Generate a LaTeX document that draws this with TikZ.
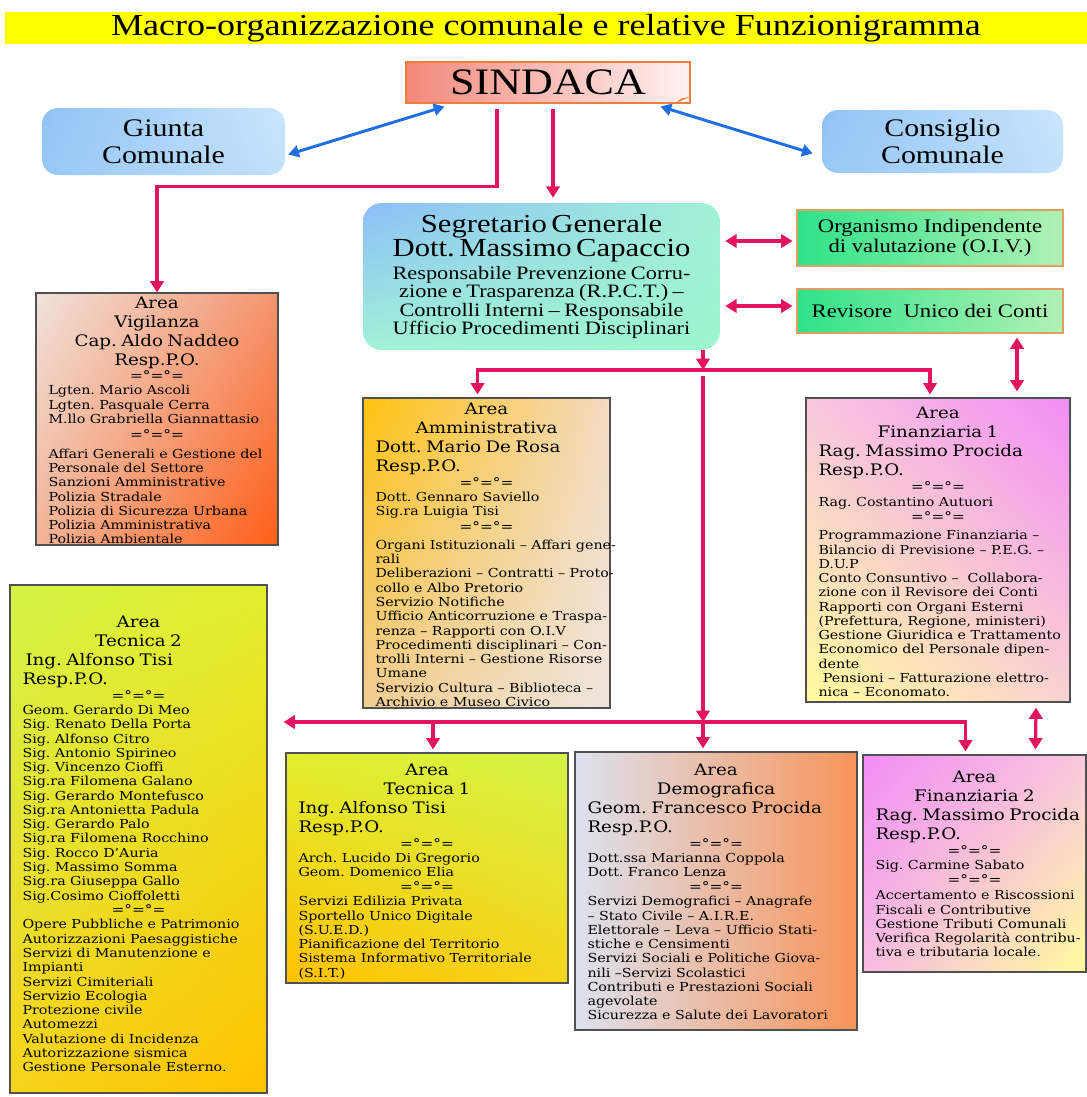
\documentclass[tikz,border=0pt]{standalone}
\usepackage{fontspec}
\setmainfont{Liberation Serif}
\newfontfamily\widefont{Liberation Serif}[FakeStretch=1.18]
\newfontfamily\areafont{DejaVu Serif}[FakeStretch=1.15]
\usetikzlibrary{arrows.meta, calc, positioning, shadings}
\frenchspacing

\definecolor{linkred}{HTML}{E3145F}
\definecolor{linkblue}{HTML}{1F6FE3}
\definecolor{boxgray}{HTML}{505050}
\definecolor{titleyellow}{HTML}{FFFF00}
\definecolor{sindleft}{HTML}{F3897C}
\definecolor{sindright}{HTML}{FFF2F2}
\definecolor{sindedge}{HTML}{F07E3A}
\definecolor{skyA}{HTML}{8FC3F5}
\definecolor{skyB}{HTML}{CBE6FC}
\definecolor{segA}{HTML}{8CBEF8}
\definecolor{segB}{HTML}{A2F2D6}
\definecolor{segC}{HTML}{9CF6CE}
\definecolor{oivleft}{HTML}{30E28A}
\definecolor{oivright}{HTML}{B0F2B4}
\definecolor{oivedge}{HTML}{E0A060}
\definecolor{vigA}{HTML}{F0E2DA}
\definecolor{vigB}{HTML}{F4946E}
\definecolor{vigC}{HTML}{F2B498}
\definecolor{vigD}{HTML}{FF5E16}
\definecolor{ammA}{HTML}{FFC30F}
\definecolor{ammB}{HTML}{F3DAC2}
\definecolor{ammC}{HTML}{F1CD92}
\definecolor{ammD}{HTML}{EEE6DE}
\definecolor{finA}{HTML}{F8C8DE}
\definecolor{finB}{HTML}{F28CF5}
\definecolor{finC}{HTML}{FFFB9C}
\definecolor{finD}{HTML}{F9D2D2}
\definecolor{tecA}{HTML}{D4F446}
\definecolor{tecB}{HTML}{E2EE2E}
\definecolor{tecC}{HTML}{F6D41C}
\definecolor{tecD}{HTML}{FFC200}
\definecolor{demA}{HTML}{DCE2EE}
\definecolor{demB}{HTML}{F2C6B4}
\definecolor{demC}{HTML}{F8945A}

\newlength\pxu
\setlength\pxu{0.75pt}

\newcommand{\hdrfont}{\areafont\fontsize{11.9pt}{14.25pt}\selectfont}
\newcommand{\lstfont}{\areafont\fontsize{9.3pt}{10.7pt}\selectfont}
\newcommand{\sepfont}{\areafont\fontsize{10pt}{11pt}\selectfont}
\newcommand{\segbig}{\widefont\fontsize{19.5pt}{18pt}\selectfont}
\newcommand{\segsmall}{\widefont\fontsize{14.2pt}{13.9pt}\selectfont}
\newcommand{\hdr}[1]{{\hdrfont\centering #1\par}}
\newcommand{\hdl}[1]{{\hdrfont\leftskip=11.5\pxu\rightskip=-40pt plus 1fil\parfillskip=0pt #1\par}}
\newcommand{\sepline}{{\sepfont\centering =°=°=\par}}
\newcommand{\lst}[1]{{\lstfont\leftskip=11.5\pxu\rightskip=-40pt plus 1fil\parfillskip=0pt #1\par}}

\begin{document}
\begin{tikzpicture}[x=0.75pt, y=-0.75pt,
    areabox/.style={rectangle, draw=boxgray, line width=0.8pt, inner sep=0pt},
    areatext/.style={inner sep=0pt, text width=#1},
    skybox/.style={rectangle, rounded corners=12pt, inner sep=0pt, align=center,
      upper left=skyA, lower left=skyA!85!skyB, upper right=skyB, lower right=skyB!85!skyA,
      font=\widefont\fontsize{19pt}{20pt}\selectfont},
    greenbox/.style={rectangle, draw=oivedge, line width=0.8pt, inner sep=0pt, align=center,
      left color=oivleft, right color=oivright,
      font=\widefont\fontsize{14.4pt}{15pt}\selectfont},
    redline/.style={draw=linkred, line width=2.4pt},
    redarr/.style={redline, -{Triangle[length=8.5pt, width=10pt]}},
    redboth/.style={redline, {Triangle[length=8.5pt, width=10pt]}-{Triangle[length=8.5pt, width=10pt]}},
    blueboth/.style={draw=linkblue, line width=2.2pt, {Triangle[length=8pt, width=9pt]}-{Triangle[length=8pt, width=9pt]}}]

  \useasboundingbox (0,0) rectangle (1087,1097);
  \fill[white] (0,0) rectangle (1087,1097);

  % top
  \node[rectangle, fill=titleyellow, inner sep=0pt, minimum width=1082*\pxu, minimum height=32*\pxu,
    font=\widefont\fontsize{22.9pt}{24pt}\selectfont] (title) at (546,28)
    {Macro-organizzazione comunale e relative Funzionigramma};

  \node[rectangle, draw=sindedge, line width=0.8pt, inner sep=0pt, left color=sindleft, right color=sindright,
    minimum width=284*\pxu, minimum height=41*\pxu, font=\widefont\fontsize{28pt}{30pt}\selectfont] (sind) at (548,82.5) {SINDACA};
  \fill[sindedge] ($(sind.south east)+(-16,0)$) -- ($(sind.south east)+(0,-7)$) -- ($(sind.south east)+(-9,-5)$) -- cycle;

  \node[skybox, minimum width=243*\pxu, minimum height=67*\pxu] (giunta) at (163.5,141.5) {Giunta\\Comunale};
  \node[skybox, minimum width=241*\pxu, minimum height=63*\pxu] (consiglio) at (942.5,141.5) {Consiglio\\Comunale};

  \node[rectangle, rounded corners=14pt, inner sep=0pt, minimum width=357*\pxu, minimum height=147*\pxu,
    text width=345*\pxu, upper left=segA, upper right=segB, lower left=segB, lower right=segC] (segr) at (541.5,276.5)
    {{\segbig\centering Segretario Generale\\Dott. Massimo Capaccio\par}
     \vspace{2.5pt}
     {\segsmall\centering Responsabile Prevenzione Corru-\\zione e Trasparenza (R.P.C.T.) –\\Controlli Interni – Responsabile\\Ufficio Procedimenti Disciplinari\par}};

  \node[greenbox, minimum width=266*\pxu, minimum height=56*\pxu] (oiv) at (930,238) {Organismo Indipendente\\di valutazione (O.I.V.)};
  \node[greenbox, minimum width=266*\pxu, minimum height=44*\pxu] (rev) at (930,311) {Revisore\ \ Unico dei Conti};

  % areas
  \node[areabox, minimum width=242*\pxu, minimum height=252*\pxu,
    upper left=vigA, upper right=vigB, lower left=vigC, lower right=vigD] (vig) at (157,419) {};
  \node[areatext=240*\pxu, below=3pt of vig.north] (vigtxt)
    {\hdr{Area\\Vigilanza\\Cap. Aldo Naddeo\\Resp.P.O.}
     \vspace{0.5pt}\sepline
     \lst{Lgten. Mario Ascoli\\Lgten. Pasquale Cerra\\M.llo Grabriella Giannattasio}
     \vspace{1pt}\sepline\vspace{3.5pt}
     \lst{Affari Generali e Gestione del\\Personale del Settore\\Sanzioni Amministrative\\Polizia Stradale\\Polizia di Sicurezza Urbana\\Polizia Amministrativa\\Polizia Ambientale}};

  \node[areabox, minimum width=247*\pxu, minimum height=310*\pxu,
    upper left=ammA, upper right=ammB, lower left=ammC, lower right=ammD] (amm) at (486.5,553) {};
  \node[areatext=245*\pxu, below=3.75pt of amm.north] (ammtxt)
    {\hdr{Area\\Amministrativa}
     \hdl{Dott. Mario De Rosa\\Resp.P.O.}
     \vspace{1pt}\sepline
     \lst{Dott. Gennaro Saviello\\Sig.ra Luigia Tisi}
     \vspace{0.5pt}\sepline\vspace{3pt}
     \lst{Organi Istituzionali – Affari gene-\\rali\\Deliberazioni – Contratti – Proto-\\collo e Albo Pretorio\\Servizio Notifiche\\Ufficio Anticorruzione e Traspa-\\renza – Rapporti con O.I.V\\Procedimenti disciplinari – Con-\\trolli Interni – Gestione Risorse\\Umane\\Servizio Cultura – Biblioteca –\\Archivio e Museo Civico}};

  \node[areabox, minimum width=264*\pxu, minimum height=304*\pxu,
    upper left=finA, upper right=finB, lower left=finC, lower right=finD] (fin1) at (938,550) {};
  \node[areatext=262*\pxu, below=6.75pt of fin1.north] (fin1txt)
    {\hdr{Area\\Finanziaria 1}
     \hdl{Rag. Massimo Procida\\Resp.P.O.}
     \vspace{1.5pt}\sepline
     \lst{Rag. Costantino Autuori}
     \vspace{0.5pt}\sepline\vspace{3pt}
     \lst{Programmazione Finanziaria –\\Bilancio di Previsione – P.E.G. –\\D.U.P\\Conto Consuntivo – \ Collabora-\\zione con il Revisore dei Conti\\Rapporti con Organi Esterni\\(Prefettura, Regione, ministeri)\\Gestione Giuridica e Trattamento\\Economico del Personale dipen-\\dente\\\hspace*{0.35em}Pensioni – Fatturazione elettro-\\nica – Economato.}};

  \node[areabox, minimum width=257*\pxu, minimum height=508*\pxu,
    upper left=tecA, upper right=tecB, lower left=tecC, lower right=tecD] (tec2) at (138.5,839) {};
  \node[areatext=255*\pxu, below=23.25pt of tec2.north] (tec2txt)
    {\hdr{Area\\Tecnica 2}
     \hdl{\hspace*{3\pxu}Ing. Alfonso Tisi\\Resp.P.O.}
     \vspace{1pt}\sepline
     \lst{Geom. Gerardo Di Meo\\Sig. Renato Della Porta\\Sig. Alfonso Citro\\Sig. Antonio Spirineo\\Sig. Vincenzo Cioffi\\Sig.ra Filomena Galano\\Sig. Gerardo Montefusco\\Sig.ra Antonietta Padula\\Sig. Gerardo Palo\\Sig.ra Filomena Rocchino\\Sig. Rocco D’Auria\\Sig. Massimo Somma\\Sig.ra Giuseppa Gallo\\Sig.Cosimo Cioffoletti}
     \sepline
     \lst{Opere Pubbliche e Patrimonio\\Autorizzazioni Paesaggistiche\\Servizi di Manutenzione e\\Impianti\\Servizi Cimiteriali\\Servizio Ecologia\\Protezione civile\\Automezzi\\Valutazione di Incidenza\\Autorizzazione sismica\\Gestione Personale Esterno.}};

  \node[areabox, minimum width=282*\pxu, minimum height=230*\pxu,
    upper left=tecB, upper right=tecA, lower left=tecD, lower right=tecC] (tec1) at (427,868) {};
  \node[areatext=280*\pxu, below=8.25pt of tec1.north] (tec1txt)
    {\hdr{Area\\Tecnica 1}
     \hdl{Ing. Alfonso Tisi\\Resp.P.O.}
     \vspace{1pt}\sepline
     \lst{Arch. Lucido Di Gregorio\\Geom. Domenico Elia}
     \sepline
     \lst{Servizi Edilizia Privata\\Sportello Unico Digitale\\(S.U.E.D.)\\Pianificazione del Territorio\\Sistema Informativo Territoriale\\(S.I.T.)}};

  \node[areabox, minimum width=282*\pxu, minimum height=278*\pxu,
    left color=demA, middle color=demB, right color=demC] (demo) at (716,891) {};
  \node[areatext=280*\pxu, below=9pt of demo.north] (demotxt)
    {\hdr{Area\\Demografica}
     \hdl{Geom. Francesco Procida\\Resp.P.O.}
     \vspace{1pt}\sepline
     \lst{Dott.ssa Marianna Coppola\\Dott. Franco Lenza}
     \sepline
     \lst{Servizi Demografici – Anagrafe\\– Stato Civile – A.I.R.E.\\Elettorale – Leva – Ufficio Stati-\\stiche e Censimenti\\Servizi Sociali e Politiche Giova-\\nili –Servizi Scolastici\\Contributi e Prestazioni Sociali\\agevolate\\Sicurezza e Salute dei Lavoratori}};

  \node[areabox, minimum width=223*\pxu, minimum height=217*\pxu,
    upper left=finB, upper right=finA, lower left=finA!80!finB, lower right=finC] (fin2) at (974.5,863.5) {};
  \node[areatext=221*\pxu, below=12pt of fin2.north] (fin2txt)
    {\hdr{Area\\Finanziaria 2}
     \hdl{Rag. Massimo Procida\\Resp.P.O.}
     \vspace{1pt}\sepline
     \lst{Sig. Carmine Sabato}
     \sepline\vspace{1pt}
     \lst{Accertamento e Riscossioni\\Fiscali e Contributive\\Gestione Tributi Comunali\\Verifica Regolarità contribu-\\tiva e tributaria locale.}};

  % links
  \draw[blueboth] ($(sind.south west)+(39,3)$) -- ($(giunta.east)+(3,13)$);
  \draw[blueboth] ($(sind.south east)+(-30,3)$) -- ($(consiglio.west)+(-9,12)$);

  \draw[redarr] ($(sind.south)+(-51,5)$) -- ++(0,78) -| (vig.north);
  \coordinate (sindmid) at ($(sind.south)+(5,5)$);
  \draw[redarr] (sindmid) -- ($(sindmid |- segr.north)+(0,-5)$);

  \draw[redboth] ($(segr.east |- oiv.west)+(5,3)$) -- ($(oiv.west)+(-4,3)$);
  \draw[redboth] ($(segr.east |- rev.west)+(5,-5)$) -- ($(rev.west)+(-4,-5)$);

  \coordinate (upfork) at (703,370);
  \draw[redarr] (upfork |- segr.south) -- (upfork);
  \draw[redarr] (upfork) -| ($(amm.north)+(-9,-3)$);
  \draw[redarr] (upfork) -| ($(fin1.north)+(-8,-3)$);

  \coordinate (lowfork) at (703,722);
  \draw[redarr] ($(upfork)+(0,6)$) -- (lowfork);
  \draw[redarr] (lowfork) -- ($(lowfork |- demo.north)+(0,-3)$);
  \draw[redarr] (lowfork) -| ($(fin2.north)+(-9,-3)$);
  \draw[redarr] (lowfork) -- ($(tec2.east |- lowfork)+(16,0)$);
  \draw[redarr] ($(tec1.north |- lowfork)+(6,0)$) -- ($(tec1.north)+(6,-3)$);

  \draw[redboth] ($(rev.south)+(87,4)$) -- ($(fin1.north)+(79,-6)$);
  \draw[redboth] ($(fin1.south)+(98,5)$) -- ($(fin2.north)+(61,-5)$);
\end{tikzpicture}
\end{document}
